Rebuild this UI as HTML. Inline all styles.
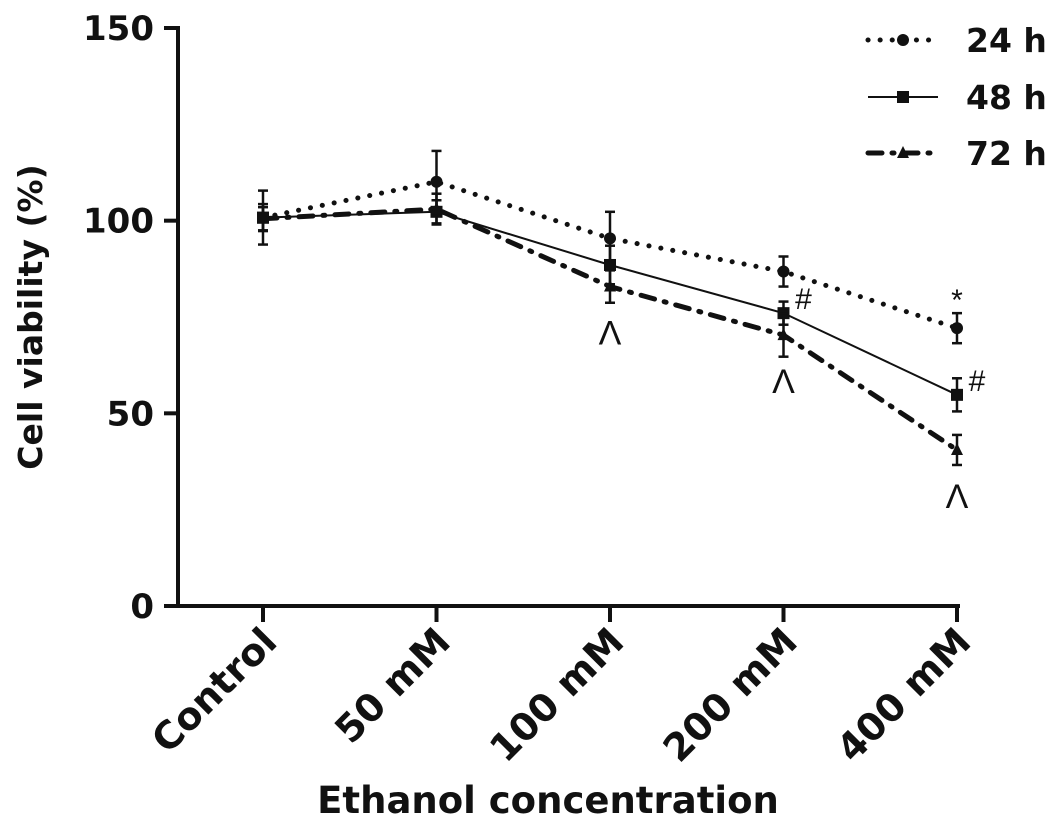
<!DOCTYPE html>
<html><head><meta charset="utf-8"><style>
body{margin:0;background:#fff;}
svg text{font-family:"DejaVu Sans","Liberation Sans",sans-serif;font-weight:bold;fill:#111;}
svg text.mark{font-family:"Liberation Sans",sans-serif;font-weight:normal;}
</style></head><body>
<svg id="chart" width="1063" height="830" viewBox="0 0 1063 830" xmlns="http://www.w3.org/2000/svg"></svg>
<script>
const categories = ["Control","50 mM","100 mM","200 mM","400 mM"];
const yTicks = [0,50,100,150];
const v24 = [100.8,110.1,95.4,86.8,72.1];
const e24 = [7,8,6.9,3.9,3.9];
const v48 = [100.8,102.3,88.5,76,54.8];
const e48 = [3.5,3,5,3,4.3];
const v72 = [100.5,103,82.9,70.3,40.5];
const e72 = [3,4,4.2,5.6,3.9];
const marks24 = ["","","","","*"];
const marks48 = ["","","","#","#"];
const marks72 = ["","","Λ","Λ","Λ"];

const svg = document.getElementById('chart');
const NS = "http://www.w3.org/2000/svg";
const x0 = 263, dx = 173.5;
function xs(i){ return x0 + i*dx; }
function ys(v){ return 606 - v*(578/150); }
function mk(tag, attrs, name, parent){
  const el = document.createElementNS(NS, tag);
  for (const k in attrs) el.setAttribute(k, attrs[k]);
  
  
  (parent||svg).appendChild(el);
  return el;
}
mk('line',{x1:178,y1:26,x2:178,y2:608,stroke:'#111','stroke-width':4},'y-axis');
mk('line',{x1:176,y1:606,x2:960,y2:606,stroke:'#111','stroke-width':4},'x-axis');
yTicks.forEach(t=>{
  const y = ys(t);
  mk('line',{x1:164,y1:y,x2:178,y2:y,stroke:'#111','stroke-width':4},'y-tick');
  const tx = mk('text',{x:154,y:y+12,'text-anchor':'end','font-size':34},'y-tick-label');
  tx.textContent = t;
});
categories.forEach((c,i)=>{
  const x = xs(i);
  mk('line',{x1:x,y1:606,x2:x,y2:622,stroke:'#111','stroke-width':4},'x-tick');
  const tx = mk('text',{x:0,y:0,'text-anchor':'end','font-size':38,transform:`translate(${x+16},${644}) rotate(-45)`},'x-tick-label');
  tx.textContent = c;
});
const yt = mk('text',{x:0,y:0,'text-anchor':'middle','font-size':33,transform:'translate(42,317) rotate(-90)'},'y-axis-title');
yt.textContent = 'Cell viability (%)';
const xt = mk('text',{x:548,y:813,'text-anchor':'middle','font-size':37},'x-axis-title');
xt.textContent = 'Ethanol concentration';

function series(vals, errs, dash, marker, width, name, marks, markDx, markDy){
  const g = mk('g',{},name);
  const pts = vals.map((v,i)=>xs(i)+','+ys(v)).join(' ');
  mk('polyline',{points:pts,fill:'none',stroke:'#111','stroke-width':width,'stroke-dasharray':dash,'stroke-linecap':dash?'round':'butt'},name+'-line',g);
  vals.forEach((v,i)=>{
    const x = xs(i), yt = ys(v+errs[i]), yb = ys(v-errs[i]);
    mk('line',{x1:x,y1:yt,x2:x,y2:yb,stroke:'#111','stroke-width':2.5},name+'-error-bar',g);
    mk('line',{x1:x-5,y1:yt,x2:x+5,y2:yt,stroke:'#111','stroke-width':2.5},name+'-error-cap',g);
    mk('line',{x1:x-5,y1:yb,x2:x+5,y2:yb,stroke:'#111','stroke-width':2.5},name+'-error-cap',g);
    drawMarker(marker, x, ys(v), g, name+'-point');
    if (marks[i]) {
      const t = mk('text',{x:x+markDx,y:ys(v)+markDy,'text-anchor':'middle','font-size':marks[i]==='Λ'?34:30,'class':'mark'},name+'-significance-mark',g);
      t.textContent = marks[i];
    }
  });
}
function drawMarker(type,x,y,g,name){
  if(type==='circle') mk('circle',{cx:x,cy:y,r:6,fill:'#111'},name,g);
  else if(type==='square') mk('rect',{x:x-6,y:y-6,width:12,height:12,fill:'#111'},name,g);
  else mk('polygon',{points:`${x},${y-7} ${x-6},${y+5} ${x+6},${y+5}`,fill:'#111'},name,g);
}
series(v24,e24,'0.1 12','circle',5,'series-24h',marks24,0,-18);
series(v48,e48,'','square',2,'series-48h',marks48,20,-4);
series(v72,e72,'14 10 2 10','triangle',5,'series-72h',marks72,0,58);

const leg = [['24 h','0.1 12','circle',5,40],['48 h','','square',2,97],['72 h','14 10 2 10','triangle',5,153]];
leg.forEach(l=>{
  const g = mk('g',{},'legend-entry');
  mk('line',{x1:868,y1:l[4],x2:938,y2:l[4],stroke:'#111','stroke-width':l[3],'stroke-dasharray':l[1],'stroke-linecap':l[1]?'round':'butt'},'legend-line',g);
  drawMarker(l[2],903,l[4],g,'legend-marker');
  const t = mk('text',{x:966,y:l[4]+12,'font-size':33},'legend-label',g);
  t.textContent = l[0];
});
</script>
</body></html>
